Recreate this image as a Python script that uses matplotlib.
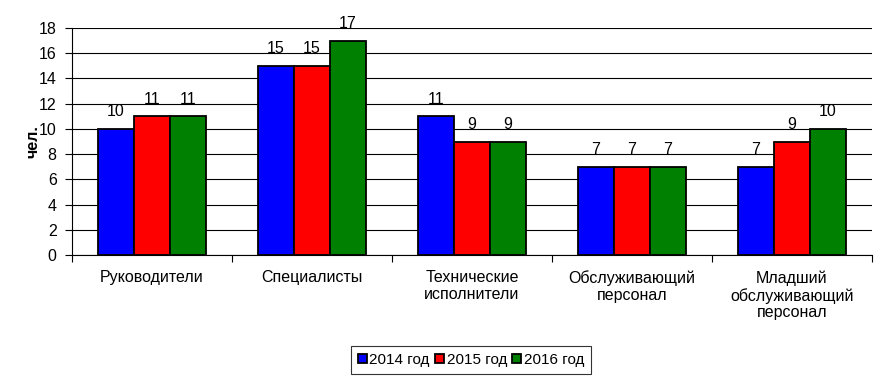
import numpy as np
import matplotlib
matplotlib.use("Agg")
import matplotlib.pyplot as plt

plt.rcParams['font.family'] = ['Liberation Sans', 'DejaVu Sans']

categories = ['Руководители', 'Специалисты', 'Технические\nисполнители',
              'Обслуживающий\nперсонал', 'Младший\nобслуживающий\nперсонал']
series_names = ['2014 год', '2015 год', '2016 год']
values_2014 = [10, 15, 11, 7, 7]
values_2015 = [11, 15, 9, 7, 9]
values_2016 = [11, 17, 9, 7, 10]
colors = ['#0000ff', '#ff0000', '#008000']

fs = 11.5

fig = plt.figure(figsize=[8.84, 3.8], dpi=100)
ax = fig.add_axes([72 / 884, 125 / 380, 800 / 884, 227 / 380])

x = np.arange(len(categories))
w = 0.225
for i, (vals, name) in enumerate(zip([values_2014, values_2015, values_2016], series_names)):
    pos = x + (i - 1) * w
    ax.bar(pos, vals, width=w, color=colors[i], edgecolor='black',
           linewidth=1.3, label=name, zorder=3)
    for p, v in zip(pos, vals):
        ax.text(p, v + 1.0, str(v), ha='center', va='baseline', fontsize=fs)

ax.set_xlim(-0.5, len(categories) - 0.5)
ax.set_ylim(0, 18)
ax.set_yticks(np.arange(0, 19, 2))
ax.yaxis.grid(True, color='black', linewidth=0.8, zorder=0)
ax.set_axisbelow(True)
ax.set_xticks(np.arange(-0.5, len(categories), 1))
ax.set_xticklabels([])
ax.set_xticks(x, minor=True)
ax.set_xticklabels(categories, minor=True, fontsize=fs, va='top', linespacing=1.15)
ax.tick_params(axis='x', which='minor', length=0, pad=11)
ax.tick_params(axis='x', which='major', length=5, color='black')
ax.tick_params(axis='y', length=5, labelsize=fs, pad=6)
for s in ['top', 'right']:
    ax.spines[s].set_visible(False)
ax.spines['left'].set_color('black')
ax.spines['bottom'].set_color('black')
ax.set_ylabel('чел.', fontsize=fs, fontweight='bold', labelpad=-1)

leg = fig.legend(loc='center', bbox_to_anchor=(471 / 884, 1 - 360 / 380), ncol=3,
                 fontsize=11, frameon=True, fancybox=False, edgecolor='black',
                 handlelength=0.6, handleheight=0.6, handletextpad=0.15,
                 columnspacing=0.35, borderpad=0.45, borderaxespad=0)
leg.get_frame().set_linewidth(0.8)

fig.savefig('out.png', dpi=100)
